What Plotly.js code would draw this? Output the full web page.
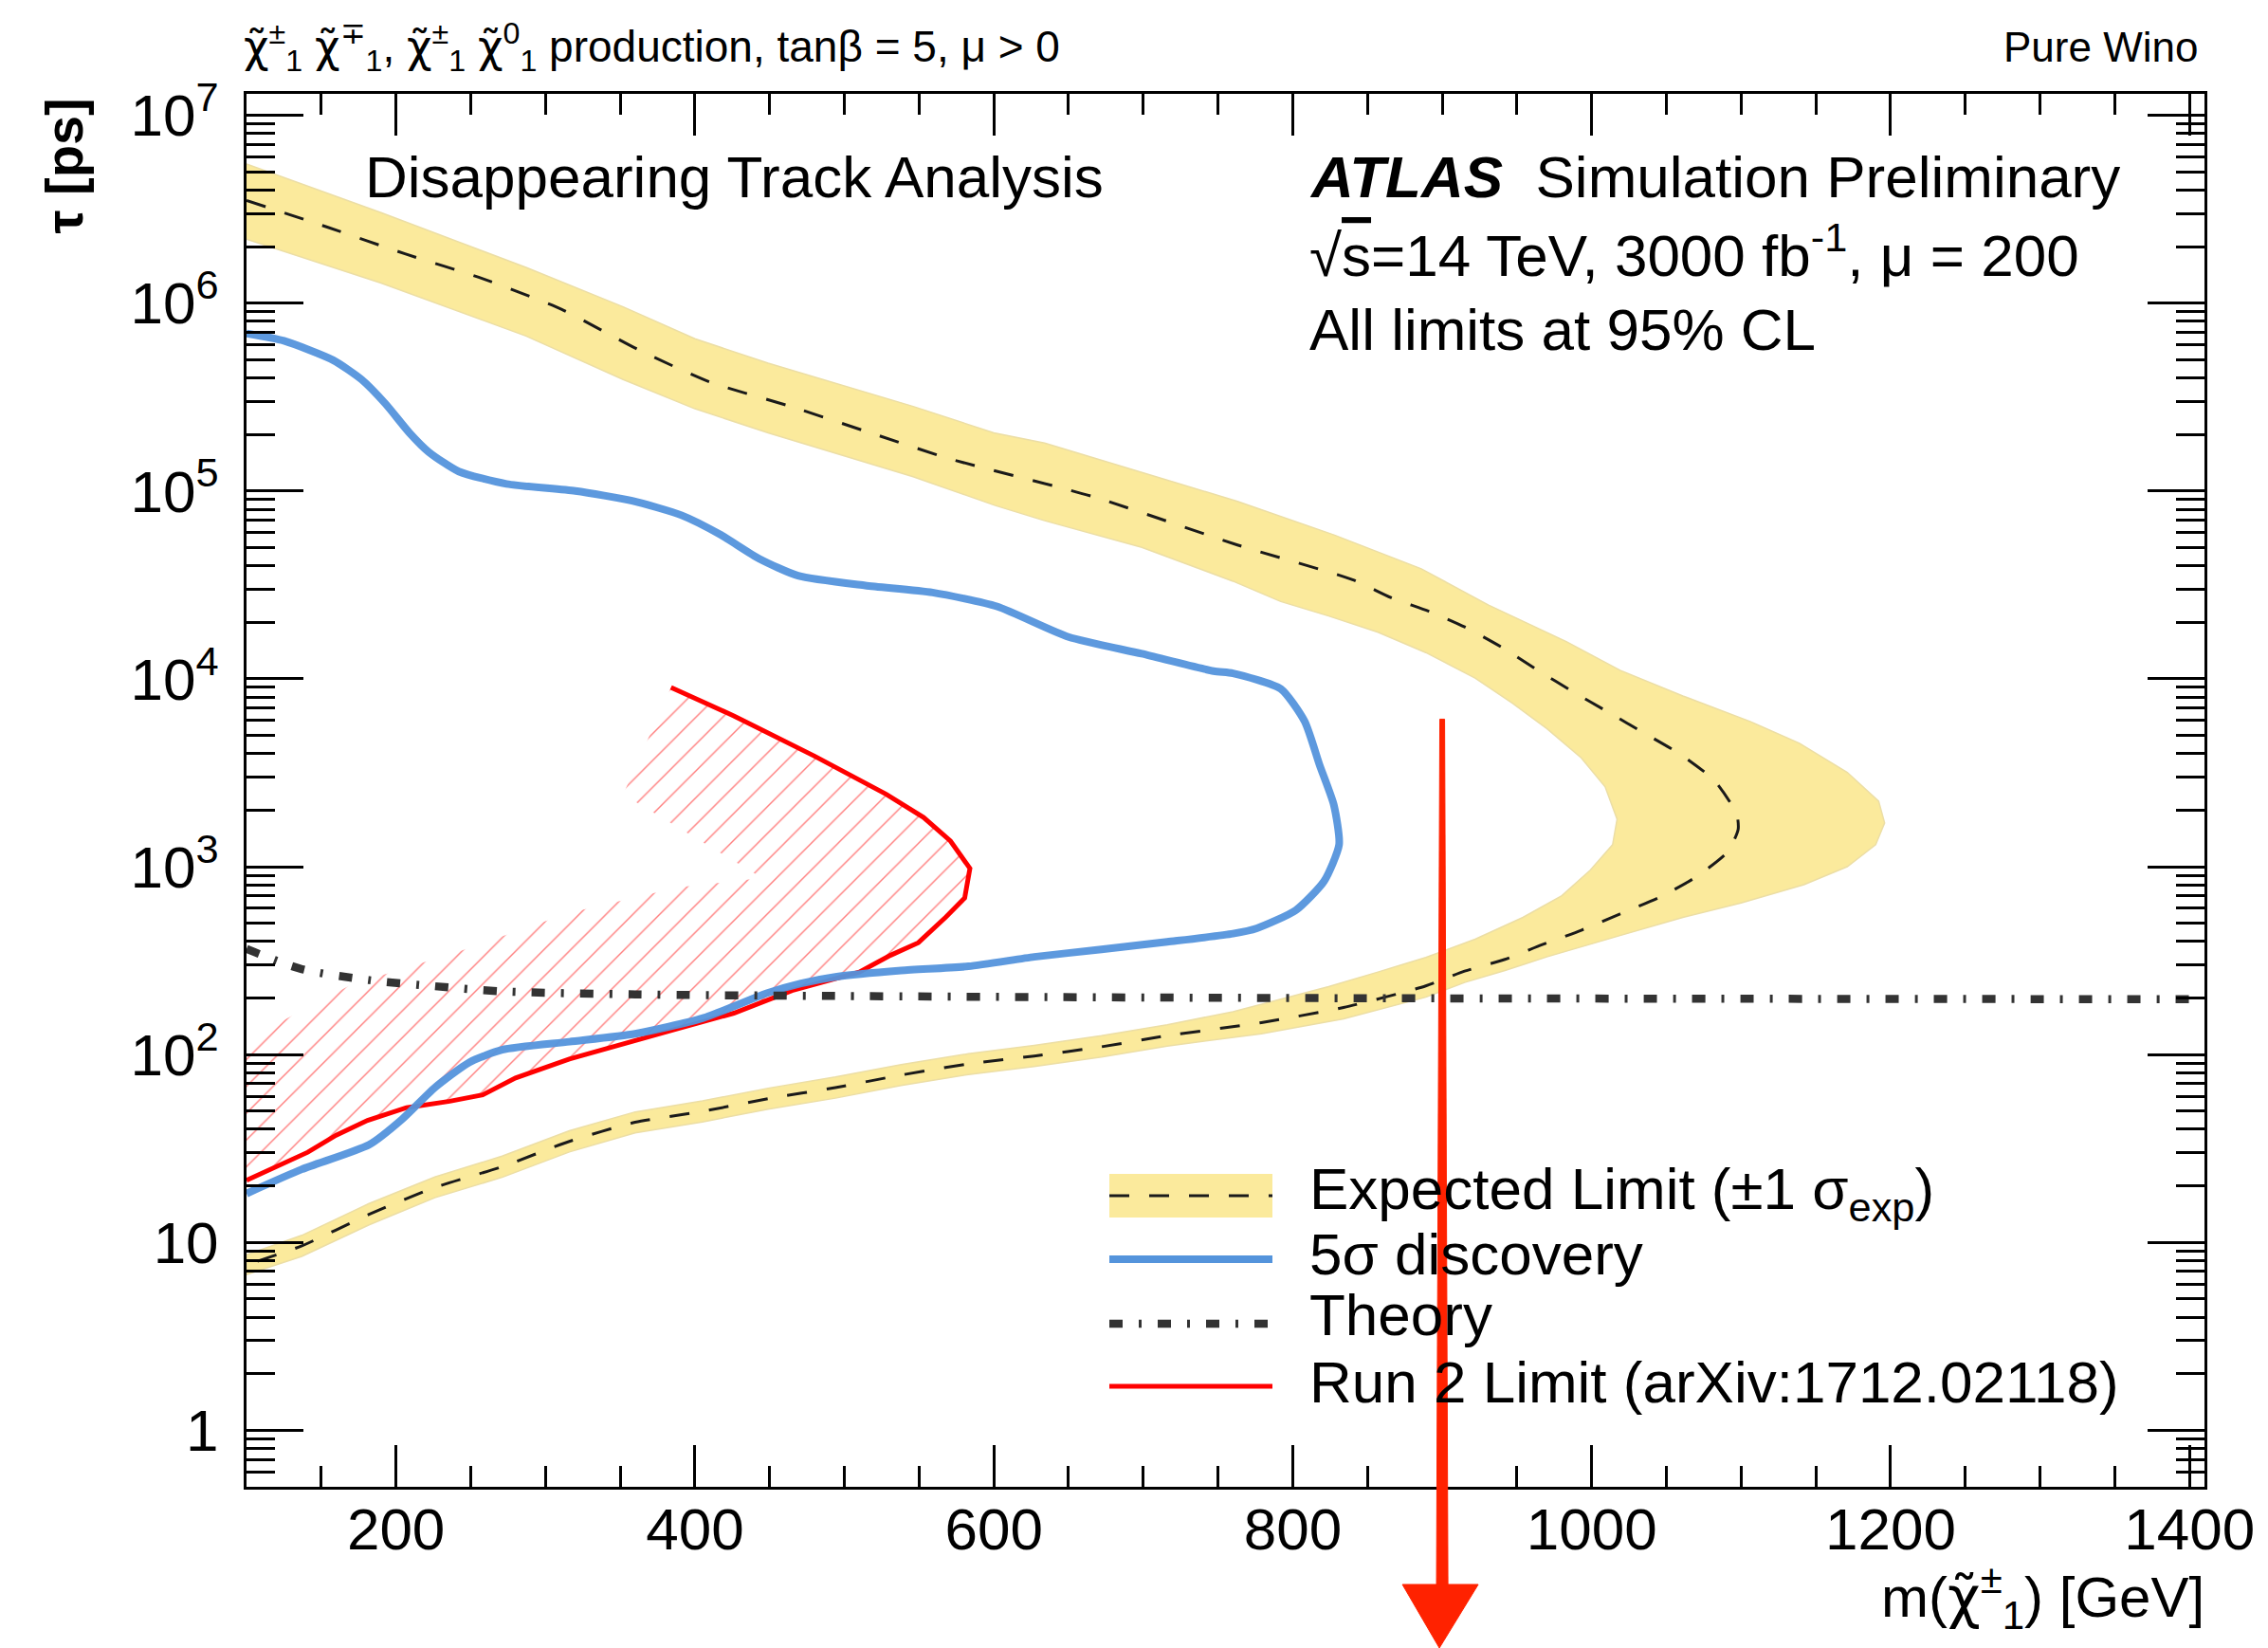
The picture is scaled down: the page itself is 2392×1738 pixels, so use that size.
<!DOCTYPE html>
<html><head><meta charset="utf-8">
<script src="https://cdn.plot.ly/plotly-3.0.1.min.js"></script>
<style>html,body{margin:0;padding:0;background:#fff;} #chart{width:2392px;height:1738px;}</style>
</head><body><div id="chart"></div>
<script>
// ---------------- data (m in GeV, tau in ps) ----------------
// Expected limit +-1 sigma band: closed outline (outer edge, then inner edge)
const expBandX = [100,190,287,352,400,449,546,600,634,699,763,828,886,931,983,1019,1061,1106,1139,1171,1192,1196,1190,1171,1142,1100,1061,1019,970,942,915,889,834,779,716,672,627,583,538,494,449,405,360,316,271,226,182,137,100,
  100,137,182,226,271,316,360,405,449,494,538,583,627,672,716,760,792,824,857,889,922,954,980,999,1014,1017,1009,993,970,947,922,889,857,824,792,760,699,634,601,546,449,400,352,287,190,100];
const expBandTau = [5.50e6,3.03e6,1.55e6,9.55e5,6.46e5,4.79e5,2.82e5,2.04e5,1.80e5,1.26e5,8.81e4,5.82e4,3.85e4,2.47e4,1.58e4,1.11e4,8110,5930,4540,3180,2230,1710,1310,1000,802,641,537,430,331,280,242,202,155,129,111,97,86.3,78.3,68.4,58.6,51.2,43.8,38.3,30.3,22.2,17.3,12.4,8.43,6.73,
  8.59,10.9,16.1,22.3,28.8,39.3,49.5,56.6,66.2,75.9,88.5,101,112,126,144,169,197,230,275,329,411,537,701,957,1310,1790,2660,3800,5430,7410,1.01e4,1.38e4,1.77e4,2.16e4,2.58e4,3.31e4,5.01e4,6.95e4,8.37e4,1.19e5,2.04e5,2.74e5,3.92e5,6.68e5,1.28e6,2.19e6];
// Expected limit (central, dashed)
const expX = [100,154,206,258,311,362,410,464,519,571,666,763,840,866,891,915,940,964,987,1012,1035,1059,1082,1097,1098,1091,1070,1045,1019,993,967,942,915,889,834,779,716,672,627,583,538,494,449,405,360,316,271,226,182,137,100];
const expTau = [3.52e6,2.54e6,1.83e6,1.35e6,9.25e5,5.66e5,3.80e5,2.82e5,2.02e5,1.48e5,9.35e4,5.16e4,3.37e4,2.70e4,2.29e4,1.89e4,1.47e4,1.11e4,8590,6580,5150,3980,2880,1910,1580,1200,883,685,561,459,385,321,278,232,178,148,126,110,98.2,89.1,77.8,66.7,58.2,49.8,43.6,34.5,25.3,19.6,14.1,9.59,7.60];
// 5 sigma discovery
const discX = [100,125,158,177,193,209,222,242,274,320,358,391,417,443,469,514,559,602,650,699,747,760,792,808,818,827.5,831,821,802,776,760,716,672,627,583,538,494,471,449,405,360,316,271,249,226,204,182,137,100];
const discTau = [6.89e5,6.30e5,4.97e5,3.92e5,2.91e5,2.04e5,1.61e5,1.27e5,1.09e5,1.00e5,8.87e4,7.43e4,5.86e4,4.36e4,3.54e4,3.14e4,2.88e4,2.43e4,1.67e4,1.36e4,1.10e4,1.07e4,8850,5930,3470,2130,1310,838,586,470,440,398,363,331,295,280,259,239,213,156,129,117,106,90.8,66.7,45.2,33.1,24.5,18.2];
// Theory
const theoryX = [100,137,182,226,271,360,494,791,1410];
const theoryTau = [365,285,249,231,217,209,205,200,197];
// Run 2 limit (arXiv:1712.02118)
const run2X = [384,426,480,528,553,571,584,580.5,568,549.5,531,510,465,426,385,353,316,280,258,236,207,181,160,141,119,100];
const run2Tau = [8990,6350,3880,2430,1830,1370,979,681,540,394,338,275,219,166,135,114,94.6,75.0,61.0,56.4,52.1,44.6,37.2,30.2,25.2,21.4];
// inner edge of the hatched band drawn along the Run 2 limit
const run2HatchX = [100,170,243,316,389,445,352];
const run2HatchTau = [120,235,356,568,776,871,2430];
// axis ticks
const xTickVals = [200,400,600,800,1000,1200,1400];
const xTickText = ['200','400','600','800','1000','1200','1400'];
const yTickVals = [1,10,100,1e3,1e4,1e5,1e6,1e7];
const yTickText = ['1','10','10<sup>2</sup>','10<sup>3</sup>','10<sup>4</sup>','10<sup>5</sup>','10<sup>6</sup>','10<sup>7</sup>'];
// red marker arrow drawn on the picture
const arrowMass = 900;
const arrowTopTau = 6100;

// ---------------- layout geometry ----------------
const W = 2392, H = 1738;
const L = 260, R = 2325, T = 99, B = 1568;
const X_RANGE = [100, 1410];
const Y_RANGE = [Math.log10(0.5), Math.log10(1.3e7)];
const FONT = 'Liberation Sans, Arial, Helvetica, sans-serif';
const BAND = 'rgb(251,234,156)';
const BLUE = 'rgb(84,148,220)';
const RED = 'rgb(255,0,0)';
const THEORY = '#333333';
const ARROW = 'rgb(255,34,0)';
const THEORY_DASH = '14px,17px,3px,17px';
const EXP_DASH = '21px,21px';

function px(x) { return (x - L) / (R - L); }
function py(y) { return (B - y) / (B - T); }
function dataXtoPaper(v) { return (v - X_RANGE[0]) / (X_RANGE[1] - X_RANGE[0]); }
function dataYtoPaper(v) { return (Math.log10(v) - Y_RANGE[0]) / (Y_RANGE[1] - Y_RANGE[0]); }

const xMinor = [];
for (let v = 150; v <= 1400; v += 50) if (v % 200 !== 0) xMinor.push(v);
const yMinor = [];
for (let d = -1; d <= 6; d++) for (let k = 2; k <= 9; k++) {
  const v = k * Math.pow(10, d);
  if (v > 0.55 && v < 1.3e7) yMinor.push(v);
}

const traces = [
  { x: expBandX, y: expBandTau, type: 'scatter', mode: 'lines', fill: 'toself',
    fillcolor: BAND, line: { color: 'rgb(236,222,165)', width: 1.5 }, hoverinfo: 'skip', showlegend: false },
  { x: expX, y: expTau, type: 'scatter', mode: 'lines',
    line: { color: '#1a1a1a', width: 3, dash: EXP_DASH, shape: 'spline', smoothing: 0.6 }, showlegend: false },
  { x: run2X.concat(run2HatchX), y: run2Tau.concat(run2HatchTau), type: 'scatter', mode: 'lines', fill: 'toself',
    fillcolor: 'rgba(0,0,0,0)', line: { width: 0, color: 'rgba(0,0,0,0)' },
    fillpattern: { shape: '/', size: 20, solidity: 0.07, fgcolor: 'rgba(255,70,70,0.7)', bgcolor: 'rgba(0,0,0,0)', fillmode: 'replace' },
    hoverinfo: 'skip', showlegend: false },
  { x: run2X, y: run2Tau, type: 'scatter', mode: 'lines',
    line: { color: RED, width: 5 }, showlegend: false },
  { x: discX, y: discTau, type: 'scatter', mode: 'lines',
    line: { color: BLUE, width: 8, shape: 'spline', smoothing: 0.6 }, opacity: 0.95, showlegend: false },
  { x: theoryX, y: theoryTau, type: 'scatter', mode: 'lines',
    line: { color: THEORY, width: 8.5, dash: THEORY_DASH, shape: 'spline', smoothing: 0.8 }, showlegend: false }
];

function txt(text, x, baseline, size, anchor, extra) {
  return Object.assign({
    xref: 'paper', yref: 'paper', x: px(x), y: py(baseline - 0.905 * size - 1),
    xanchor: anchor, yanchor: 'top', text: text, showarrow: false, align: anchor,
    font: { family: FONT, size: size, color: 'black' }
  }, extra || {});
}

const chi = '<span style="font-family:\'DejaVu Sans\'">\u03C7\u0303</span>';
const annotations = [
  txt(chi + '<sup>\u00B1</sup><sub>1</sub> ' + chi + '<sup>\u2213</sup><sub>1</sub>, ' + chi + '<sup>\u00B1</sup><sub>1</sub> ' + chi + '<sup>0</sup><sub>1</sub> production, tan\u03B2 = 5, \u03BC > 0', 255, 58, 46, 'left'),
  txt('Pure Wino', 2320, 64, 44, 'right'),
  txt('Disappearing Track Analysis', 383, 207, 62, 'left'),
  txt('<b><i>ATLAS</i></b>\u00A0\u00A0Simulation Preliminary', 1379, 207, 62, 'left'),
  txt('\u221A<span style="text-decoration:overline">s</span>=14 TeV, 3000 fb<sup>-1</sup>, \u03BC = 200', 1379, 281, 62, 'left'),
  txt('All limits at 95% CL', 1379, 368, 62, 'left'),
  txt('Expected Limit (\u00B11 \u03C3<sub>exp</sub>)', 1379, 1274, 62, 'left'),
  txt('5\u03C3 discovery', 1379, 1343, 62, 'left'),
  txt('Theory', 1379, 1407, 62, 'left'),
  txt('Run 2 Limit (arXiv:1712.02118)', 1379, 1478, 62, 'left'),
  txt('m(' + chi + '<sup>\u00B1</sup><sub>1</sub>) [GeV]', 2327, 1695, 60, 'right'),
  { xref: 'paper', yref: 'paper', x: px(67), y: py(102), xanchor: 'center', yanchor: 'top',
    text: '<b>\u03C4 [ps]</b>', textangle: -90, showarrow: false,
    font: { family: FONT, size: 56, color: 'black' } }
];

// red arrow (shaft tapering + head), placed at arrowMass
const ax = dataXtoPaper(arrowMass);
const aTop = dataYtoPaper(arrowTopTau);
const headTop = py(1671), headTip = py(1738);
const pw = 1 / (R - L);
const shapes = [
  // legend symbols
  { type: 'rect', xref: 'paper', yref: 'paper', x0: px(1170), x1: px(1342), y0: py(1284), y1: py(1238), fillcolor: BAND, line: { width: 0 } },
  { type: 'line', xref: 'paper', yref: 'paper', x0: px(1170), x1: px(1342), y0: py(1261), y1: py(1261), line: { color: '#1a1a1a', width: 3, dash: EXP_DASH } },
  { type: 'line', xref: 'paper', yref: 'paper', x0: px(1170), x1: px(1342), y0: py(1328), y1: py(1328), line: { color: BLUE, width: 8 } },
  { type: 'line', xref: 'paper', yref: 'paper', x0: px(1170), x1: px(1342), y0: py(1396), y1: py(1396), line: { color: THEORY, width: 8.5, dash: THEORY_DASH } },
  { type: 'line', xref: 'paper', yref: 'paper', x0: px(1170), x1: px(1342), y0: py(1462), y1: py(1462), line: { color: RED, width: 5 } },
  // arrow shaft
  { type: 'path', xref: 'paper', yref: 'paper', layer: 'above',
    path: 'M' + (ax - 2.5 * pw) + ',' + aTop + ' L' + (ax + 2.5 * pw) + ',' + aTop + ' L' + (ax + 6 * pw) + ',' + headTop + ' L' + (ax - 6 * pw) + ',' + headTop + ' Z',
    fillcolor: ARROW, line: { color: ARROW, width: 1 } },
  // arrow head
  { type: 'path', xref: 'paper', yref: 'paper', layer: 'above',
    path: 'M' + (ax - 42 * pw) + ',' + headTop + ' L' + (ax + 38 * pw) + ',' + headTop + ' L' + (ax - 3 * pw) + ',' + headTip + ' Z',
    fillcolor: ARROW, line: { color: ARROW, width: 1 } }
];

const axisCommon = {
  ticks: 'inside', tickwidth: 3, tickcolor: 'black', showline: true, linewidth: 3, linecolor: 'black',
  mirror: 'allticks', showgrid: false, zeroline: false,
  tickfont: { family: FONT, size: 62, color: 'black' }
};

const layout = {
  width: W, height: H,
  margin: { l: L, r: W - R, t: T, b: H - B, autoexpand: false },
  paper_bgcolor: 'white', plot_bgcolor: 'white',
  showlegend: false,
  xaxis: Object.assign({}, axisCommon, {
    range: X_RANGE, tickmode: 'array', tickvals: xTickVals, ticktext: xTickText, ticklen: 44,
    ticklabelstandoff: -11,
    minor: { tickmode: 'array', tickvals: xMinor, ticks: 'inside', ticklen: 22, tickwidth: 3, tickcolor: 'black', showgrid: false }
  }),
  yaxis: Object.assign({}, axisCommon, {
    type: 'log', range: Y_RANGE, tickmode: 'array', tickvals: yTickVals, ticktext: yTickText, ticklen: 60,
    ticklabelstandoff: 14,
    minor: { tickmode: 'array', tickvals: yMinor, ticks: 'inside', ticklen: 30, tickwidth: 3, tickcolor: 'black', showgrid: false }
  }),
  annotations: annotations,
  shapes: shapes
};

Plotly.newPlot('chart', traces, layout, { staticPlot: true, displayModeBar: false });
</script>
</body></html>
